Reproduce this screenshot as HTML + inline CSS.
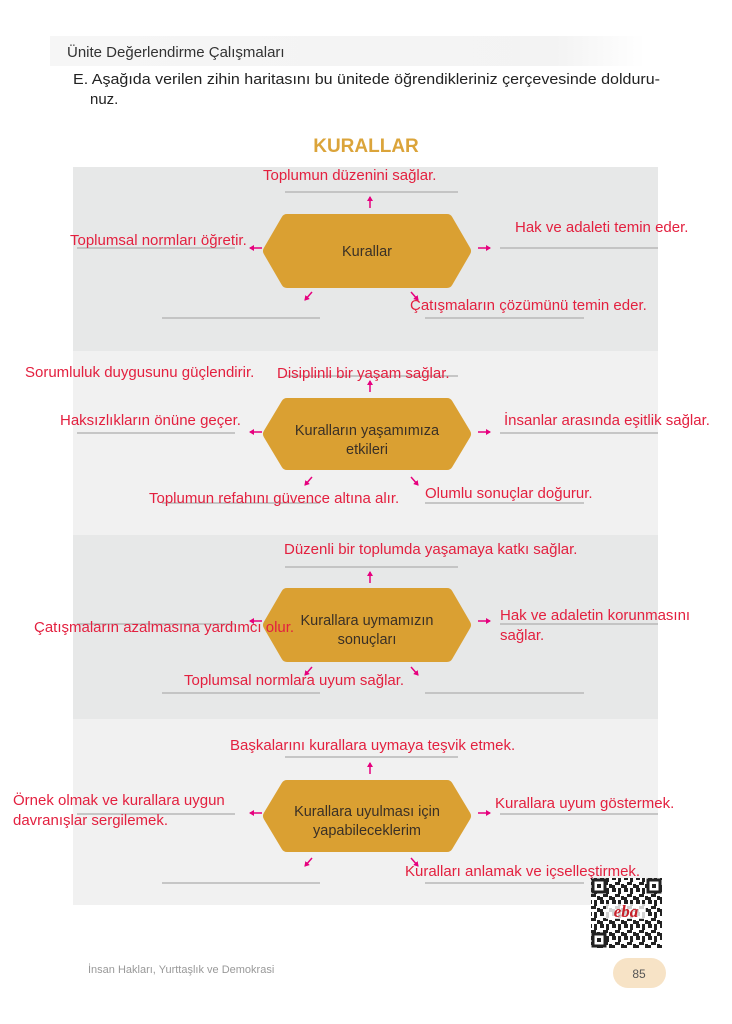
<!DOCTYPE html>
<html><head><meta charset="utf-8"><style>
html,body{margin:0;padding:0;background:#fff;}
body{width:732px;height:1024px;position:relative;overflow:hidden;font-family:"Liberation Sans",sans-serif;}
svg{position:absolute;left:0;top:0;}
.r{fill:#e3203f;font-size:15px;font-family:"Liberation Sans",sans-serif;}
.n{fill:#3a3026;font-size:14.5px;text-anchor:middle;font-family:"Liberation Sans",sans-serif;}
.ln{stroke:#b8b8b8;stroke-width:1.5;}
.ar{stroke:#e6007e;stroke-width:1.5;fill:none;marker-end:url(#ah);}
.hx{fill:#daa032;stroke:#daa032;stroke-width:12;stroke-linejoin:round;}
</style></head><body>
<svg width="732" height="1024" viewBox="0 0 732 1024">
<defs>
<marker id="ah" markerWidth="6" markerHeight="6" refX="4" refY="3" orient="auto" markerUnits="userSpaceOnUse"><path d="M0,0 L5,3 L0,6 Z" fill="#e6007e"/></marker>
<linearGradient id="hd" x1="0" x2="1"><stop offset="0" stop-color="#f6f6f6"/><stop offset="0.85" stop-color="#f3f3f3"/><stop offset="1" stop-color="#fff"/></linearGradient>
<pattern id="qr" width="12" height="12" patternUnits="userSpaceOnUse">
<rect width="12" height="12" fill="#fff"/>
<rect x="0" y="0" width="4" height="4" fill="#222"/><rect x="6" y="0" width="3" height="6" fill="#222"/><rect x="3" y="6" width="5" height="3" fill="#222"/><rect x="9" y="8" width="3" height="4" fill="#222"/><rect x="0" y="9" width="3" height="3" fill="#222"/>
</pattern>
</defs>
<rect x="50" y="36" width="595" height="30" fill="url(#hd)"/>
<text x="67" y="57" font-size="15" fill="#333">Ünite Değerlendirme Çalışmaları</text>
<text x="73" y="84" font-size="15" fill="#222" textLength="587" lengthAdjust="spacingAndGlyphs">E. Aşağıda verilen zihin haritasını bu ünitede öğrendikleriniz çerçevesinde dolduru-</text>
<text x="90" y="104" font-size="15" fill="#222">nuz.</text>
<text x="366" y="152" font-size="19" fill="#dba43a" font-weight="bold" text-anchor="middle">KURALLAR</text>

<rect x="73" y="167" width="585" height="184" fill="#e7e8e8"/>
<rect x="73" y="351" width="585" height="184" fill="#f1f1f1"/>
<rect x="73" y="535" width="585" height="184" fill="#e7e8e8"/>
<rect x="73" y="719" width="585" height="186" fill="#f1f1f1"/>

<g class="ln">
<line x1="285" y1="192" x2="458" y2="192"/><line x1="77" y1="248" x2="235" y2="248"/><line x1="500" y1="248" x2="658" y2="248"/><line x1="162" y1="318" x2="320" y2="318"/><line x1="425" y1="318" x2="584" y2="318"/>
<line x1="285" y1="376" x2="458" y2="376"/><line x1="77" y1="433" x2="235" y2="433"/><line x1="500" y1="433" x2="658" y2="433"/><line x1="162" y1="503" x2="320" y2="503"/><line x1="425" y1="503" x2="584" y2="503"/>
<line x1="285" y1="567" x2="458" y2="567"/><line x1="77" y1="624" x2="235" y2="624"/><line x1="500" y1="624" x2="658" y2="624"/><line x1="162" y1="693" x2="320" y2="693"/><line x1="425" y1="693" x2="584" y2="693"/>
<line x1="285" y1="757" x2="458" y2="757"/><line x1="77" y1="814" x2="235" y2="814"/><line x1="500" y1="814" x2="658" y2="814"/><line x1="162" y1="883" x2="320" y2="883"/><line x1="425" y1="883" x2="584" y2="883"/>
</g>

<g class="hx">
<polygon points="287,220 447,220 465,251 447,282 287,282 269,251"/>
<polygon points="287,404 447,404 465,434 447,464 287,464 269,434"/>
<polygon points="287,594 447,594 465,625 447,656 287,656 269,625"/>
<polygon points="287,786 447,786 465,816 447,846 287,846 269,816"/>
</g>
<text class="n" x="367" y="256">Kurallar</text>
<text class="n" x="367" y="435">Kuralların yaşamımıza</text><text class="n" x="367" y="454">etkileri</text>
<text class="n" x="367" y="625">Kurallara uymamızın</text><text class="n" x="367" y="644">sonuçları</text>
<text class="n" x="367" y="816">Kurallara uyulması için</text><text class="n" x="367" y="835">yapabileceklerim</text>

<g>
<line class="ar" x1="370" y1="208" x2="370" y2="197"/><line class="ar" x1="262" y1="248" x2="250" y2="248"/><line class="ar" x1="478" y1="248" x2="490" y2="248"/><line class="ar" x1="312" y1="292" x2="305" y2="300"/><line class="ar" x1="411" y1="292" x2="418" y2="300"/>
<line class="ar" x1="370" y1="392" x2="370" y2="381"/><line class="ar" x1="262" y1="432" x2="250" y2="432"/><line class="ar" x1="478" y1="432" x2="490" y2="432"/><line class="ar" x1="312" y1="477" x2="305" y2="485"/><line class="ar" x1="411" y1="477" x2="418" y2="485"/>
<line class="ar" x1="370" y1="583" x2="370" y2="572"/><line class="ar" x1="262" y1="621" x2="250" y2="621"/><line class="ar" x1="478" y1="621" x2="490" y2="621"/><line class="ar" x1="312" y1="667" x2="305" y2="675"/><line class="ar" x1="411" y1="667" x2="418" y2="675"/>
<line class="ar" x1="370" y1="774" x2="370" y2="763"/><line class="ar" x1="262" y1="813" x2="250" y2="813"/><line class="ar" x1="478" y1="813" x2="490" y2="813"/><line class="ar" x1="312" y1="858" x2="305" y2="866"/><line class="ar" x1="411" y1="858" x2="418" y2="866"/>
</g>

<text class="r" x="263" y="180">Toplumun düzenini sağlar.</text>
<text class="r" x="70" y="245">Toplumsal normları öğretir.</text>
<text class="r" x="515" y="232">Hak ve adaleti temin eder.</text>
<text class="r" x="410" y="310">Çatışmaların çözümünü temin eder.</text>

<text class="r" x="25" y="377">Sorumluluk duygusunu güçlendirir.</text>
<text class="r" x="277" y="378">Disiplinli bir yaşam sağlar.</text>
<text class="r" x="60" y="425">Haksızlıkların önüne geçer.</text>
<text class="r" x="504" y="425">İnsanlar arasında eşitlik sağlar.</text>
<text class="r" x="149" y="503">Toplumun refahını güvence altına alır.</text>
<text class="r" x="425" y="498">Olumlu sonuçlar doğurur.</text>

<text class="r" x="284" y="554">Düzenli bir toplumda yaşamaya katkı sağlar.</text>
<text class="r" x="34" y="632">Çatışmaların azalmasına yardımcı olur.</text>
<text class="r" x="500" y="620">Hak ve adaletin korunmasını</text>
<text class="r" x="500" y="640">sağlar.</text>
<text class="r" x="184" y="685">Toplumsal normlara uyum sağlar.</text>

<text class="r" x="230" y="750">Başkalarını kurallara uymaya teşvik etmek.</text>
<text class="r" x="13" y="805">Örnek olmak ve kurallara uygun</text>
<text class="r" x="13" y="825">davranışlar sergilemek.</text>
<text class="r" x="495" y="808">Kurallara uyum göstermek.</text>
<text class="r" x="405" y="876">Kuralları anlamak ve içselleştirmek.</text>

<rect x="591" y="878" width="71" height="70" fill="url(#qr)"/>
<g fill="#fff" stroke="#222" stroke-width="3"><rect x="593" y="880" width="12" height="12"/><rect x="648" y="880" width="12" height="12"/><rect x="593" y="934" width="12" height="12"/></g>
<g fill="#222"><rect x="597" y="884" width="4" height="4"/><rect x="652" y="884" width="4" height="4"/><rect x="597" y="938" width="4" height="4"/></g>
<rect x="606" y="904" width="40" height="15" fill="#fff" opacity="0.8"/>
<text x="626" y="917" font-size="17" font-style="italic" font-weight="bold" fill="#c8202a" text-anchor="middle" font-family="Liberation Serif,serif">eba</text>

<text x="88" y="973" font-size="11" fill="#999">İnsan Hakları, Yurttaşlık ve Demokrasi</text>
<rect x="613" y="958" width="53" height="30" rx="15" fill="#f7e3c6"/>
<text x="639" y="978" font-size="12" fill="#555" text-anchor="middle">85</text>
</svg>
</body></html>
